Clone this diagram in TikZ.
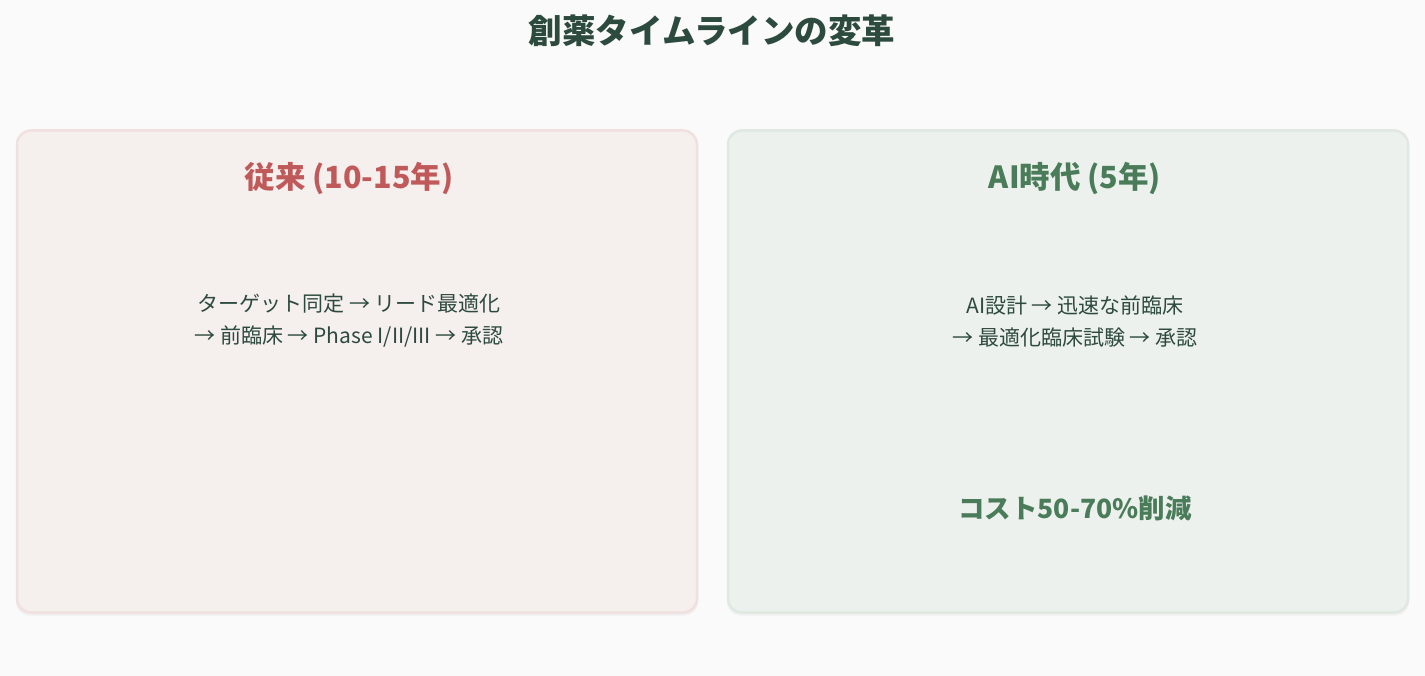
\documentclass[tikz,border=0pt]{standalone}
\usepackage{fontspec}
\setmainfont{Noto Sans CJK JP}
\usetikzlibrary{positioning}
\definecolor{bg}{HTML}{FAFAFA}
\definecolor{titlec}{HTML}{2D4A3E}
\definecolor{redc}{HTML}{C05A5A}
\definecolor{greenc}{HTML}{4A7C59}
\definecolor{lfill}{HTML}{F5EFED}
\definecolor{ldraw}{HTML}{F0E0E0}
\definecolor{rfill}{HTML}{EDF1ED}
\definecolor{rdraw}{HTML}{DFE8E1}
\tikzset{
  panel/.style={rounded corners=14pt, line width=2.5pt, minimum width=680pt, minimum height=482pt, inner sep=0pt},
  shadowpanel/.style={rounded corners=14pt, fill=black!6, minimum width=682pt, minimum height=482pt, inner sep=0pt},
  head/.style={font=\bfseries\fontsize{30.5}{34}\selectfont},
  body/.style={font=\fontsize{21}{32}\selectfont, text=titlec, align=center},
}
\begin{document}
\begin{tikzpicture}[x=1pt,y=-1pt]
\useasboundingbox[fill=bg] (0,0) rectangle (1425,676);
\node[font=\bfseries\fontsize{33.5}{36}\selectfont, text=titlec] (title) at (712,31) {創薬タイムラインの変革};
% shadows
\node[shadowpanel] (lsh) at (357,374.5) {};
\node[shadowpanel] (rsh) at (1068,374.5) {};
% panels
\node[panel, fill=lfill, draw=ldraw] (left) at (357,371.5) {};
\node[panel, fill=rfill, draw=rdraw] (right) at (1068,371.5) {};
% left content
\node[head, text=redc] (lhead) at (349,179) {従来 (10-15年)};
\node[body] (lbody) at (349,321) {ターゲット同定 → リード最適化\\→ 前臨床 → Phase I/II/III → 承認};
% right content
\node[head, text=greenc] (rhead) at (1075,179) {AI時代 (5年)};
\node[body] (rbody) at (1075,321) {AI設計 → 迅速な前臨床\\→ 最適化臨床試験 → 承認};
\node[font=\bfseries\fontsize{26.5}{30}\selectfont, text=greenc] (cost) at (1075,508) {コスト50-70\%削減};
\end{tikzpicture}
\end{document}
